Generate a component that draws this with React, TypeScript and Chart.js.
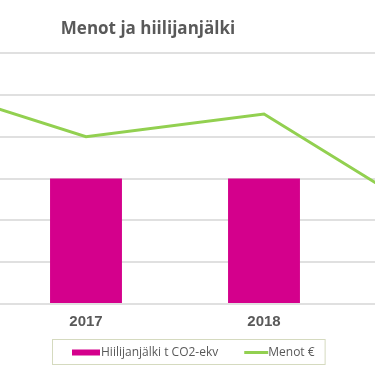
import React, { useEffect, useRef } from "react";
import { Chart, registerables } from "chart.js";

Chart.register(...registerables);

// ---- data ----
const TITLE = "Menot ja hiilijanjälki";
const years = ["2016", "2017", "2018", "2019"];
const carbonFootprint: (number | null)[] = [null, 3, 3, null];
const expenses = [5.35, 4.0, 4.54, 1.92];
const seriesNames = ["Hiilijanjälki t CO2-ekv", "Menot €"];
const yMin = 0;
const yMax = 6;
const yStep = 1;

// ---- style ----
const BAR_COLOR = "#d4008c";
const LINE_COLOR = "#92d050";
const TEXT_COLOR = "#595959";
const GRID_COLOR = "#e0e0e0";
const LEGEND_BORDER = "#d5dabf";

// canvas is wider than the visible window (the reference is a crop)
const CANVAS_LEFT = -200;
const CANVAS_W = 778;
const CANVAS_H = 366;

const overlayPlugin = {
  id: "overlayTitleLegend",
  afterDraw(chart: any) {
    const ctx: CanvasRenderingContext2D = chart.ctx;
    ctx.save();
    // title
    ctx.fillStyle = TEXT_COLOR;
    ctx.font = 'bold 17px "Open Sans"';
    ctx.textAlign = "center";
    ctx.textBaseline = "alphabetic";
    ctx.fillText(TITLE, 148 - CANVAS_LEFT, 34);

    // legend
    ctx.font = '12px "Open Sans"';
    ctx.textAlign = "left";
    ctx.textBaseline = "middle";
    const cy = 352.5;
    const startX = 72 - CANVAS_LEFT;
    let x = startX;
    chart.data.datasets.forEach((ds: any, i: number) => {
      if (i > 0) x += 26;
      if (ds.type === "line") {
        ctx.strokeStyle = ds.borderColor;
        ctx.lineWidth = 3;
        ctx.beginPath();
        ctx.moveTo(x, cy);
        ctx.lineTo(x + 24, cy);
        ctx.stroke();
        x += 24;
      } else {
        ctx.fillStyle = ds.backgroundColor;
        ctx.fillRect(x, cy - 3, 28, 6);
        x += 29;
      }
      ctx.fillStyle = TEXT_COLOR;
      ctx.fillText(ds.label, x, cy);
      x += ctx.measureText(ds.label).width;
    });
    ctx.strokeStyle = LEGEND_BORDER;
    ctx.lineWidth = 1;
    ctx.strokeRect(startX - 20 + 0.5, 339.5, x + 10 - (startX - 20), 25);
    ctx.restore();
  },
};

export default function App() {
  const ref = useRef<HTMLCanvasElement | null>(null);

  useEffect(() => {
    if (!ref.current) return;
    const chart = new Chart(ref.current, {
      data: {
        labels: years,
        datasets: [
          {
            type: "bar",
            label: seriesNames[0],
            data: carbonFootprint,
            backgroundColor: BAR_COLOR,
            borderWidth: 0,
            categoryPercentage: 1,
            barPercentage: 0.404,
            order: 2,
          },
          {
            type: "line",
            label: seriesNames[1],
            data: expenses,
            borderColor: LINE_COLOR,
            backgroundColor: LINE_COLOR,
            borderWidth: 3,
            pointRadius: 0,
            tension: 0,
            order: 1,
          },
        ],
      } as any,
      options: {
        responsive: false,
        animation: false,
        devicePixelRatio: 1,
        layout: { padding: { left: 19, right: 47, top: 53, bottom: 26 } },
        plugins: {
          legend: { display: false },
          title: { display: false },
          tooltip: { enabled: false },
        },
        scales: {
          x: {
            offset: true,
            grid: { display: false, drawTicks: false },
            border: { display: false },
            ticks: {
              color: TEXT_COLOR,
              padding: 9,
              font: { family: '"Liberation Sans", Arial', size: 15, weight: "bold" },
            },
          },
          y: {
            min: yMin,
            max: yMax,
            ticks: { display: false, stepSize: yStep },
            grid: { color: GRID_COLOR, lineWidth: 2, drawTicks: false },
            border: { display: false },
          },
        },
      },
      plugins: [overlayPlugin],
    });
    return () => chart.destroy();
  }, []);

  return (
    <div
      style={{
        position: "fixed",
        left: 0,
        top: 0,
        width: 375,
        height: 366,
        overflow: "hidden",
        background: "#fff",
      }}
    >
      <canvas
        ref={ref}
        width={CANVAS_W}
        height={CANVAS_H}
        style={{ position: "absolute", left: CANVAS_LEFT, top: 0, width: CANVAS_W, height: CANVAS_H }}
      />
    </div>
  );
}
